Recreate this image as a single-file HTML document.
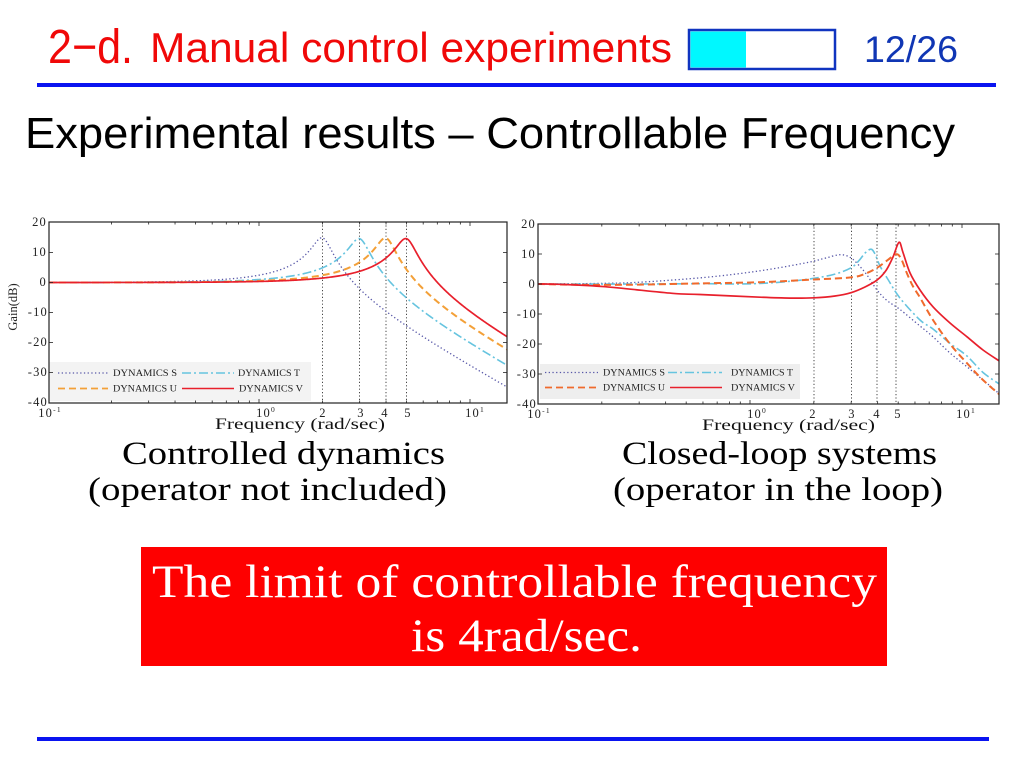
<!DOCTYPE html>
<html><head><meta charset="utf-8"><style>
html,body{margin:0;padding:0;background:#fff;}
svg{display:block;}
.tk{font-family:"Liberation Serif",serif;font-size:12.5px;fill:#222;letter-spacing:1.2px;}
.lg{font-family:"Liberation Serif",serif;font-size:9px;fill:#222;}
.cap{font-family:"Liberation Serif",serif;font-size:33px;fill:#000;}
</style></head><body>
<svg id="s" width="1024" height="768" viewBox="0 0 1024 768" xmlns="http://www.w3.org/2000/svg">
<rect width="1024" height="768" fill="#fff"/>
<!-- header -->
<text x="48" y="63" font-family="Liberation Sans, sans-serif" font-size="48" fill="#f00808" textLength="85" lengthAdjust="spacingAndGlyphs">2−d.</text>
<text x="150" y="62" font-family="Liberation Sans, sans-serif" font-size="42" fill="#f00808" textLength="522" lengthAdjust="spacingAndGlyphs">Manual control experiments</text>
<rect x="689" y="30" width="146" height="39" fill="#fff" stroke="#1034c0" stroke-width="2.5"/>
<rect x="690.5" y="31.5" width="55.5" height="36" fill="#00f8ff"/>
<text x="864" y="62" font-family="Liberation Sans, sans-serif" font-size="37" fill="#1036b4" textLength="94" lengthAdjust="spacingAndGlyphs">12/26</text>
<rect x="37" y="83" width="959" height="4" fill="#0a14f0"/>
<text x="25" y="148" font-family="Liberation Sans, sans-serif" font-size="44" fill="#000" textLength="930" lengthAdjust="spacingAndGlyphs">Experimental results – Controllable Frequency</text>

<defs>
<clipPath id="cl"><rect x="49" y="222" width="458" height="181"/></clipPath>
<clipPath id="cr"><rect x="538" y="224" width="461" height="180"/></clipPath>
</defs>

<!-- LEFT CHART -->
<g id="left">
<rect x="49" y="362" width="262" height="39" fill="#f3f3f3"/>
<g stroke="#333" stroke-width="0.9" stroke-dasharray="1.2,2.2">
<line x1="322.5" y1="222" x2="322.5" y2="403"/>
<line x1="359.5" y1="222" x2="359.5" y2="403"/>
<line x1="386" y1="222" x2="386" y2="403"/>
<line x1="406.5" y1="222" x2="406.5" y2="403"/>
</g>
<g id="lcurves" clip-path="url(#cl)"></g>
<g id="lticks" stroke="#222" stroke-width="0.8"></g>
<rect x="49" y="222" width="458" height="181" fill="none" stroke="#222" stroke-width="1.2"/>
<g class="tk" text-anchor="end">
<text x="47" y="226">20</text><text x="47" y="256">10</text><text x="47" y="286">0</text>
<text x="48" y="316">-10</text><text x="48" y="346">-20</text><text x="48" y="376">-30</text><text x="48" y="406">-40</text>
</g>
<g class="tk" text-anchor="middle">
<text x="50" y="417">10<tspan font-size="7.5" dy="-5">-1</tspan></text>
<text x="266" y="417">10<tspan font-size="7.5" dy="-5">0</tspan></text>
<text x="323" y="417">2</text><text x="361" y="417">3</text><text x="385" y="417">4</text><text x="408" y="417">5</text>
<text x="475" y="417">10<tspan font-size="7.5" dy="-5">1</tspan></text>
</g>
<text x="215" y="429" font-family="Liberation Serif, serif" font-size="16" fill="#111" textLength="170" lengthAdjust="spacingAndGlyphs">Frequency (rad/sec)</text>
<text transform="translate(17,307) rotate(-90)" text-anchor="middle" font-family="Liberation Serif, serif" font-size="12.5" fill="#222">Gain(dB)</text>
<!-- legend -->
<line x1="58" y1="373" x2="108" y2="373" stroke="#5858a8" stroke-width="1.3" stroke-dasharray="1.3,2.4"/>
<text class="lg" x="113" y="376" textLength="64" lengthAdjust="spacingAndGlyphs">DYNAMICS S</text>
<line x1="182" y1="373" x2="234" y2="373" stroke="#66c4df" stroke-width="1.6" stroke-dasharray="9,3,2,3"/>
<text class="lg" x="238" y="376" textLength="62" lengthAdjust="spacingAndGlyphs">DYNAMICS T</text>
<line x1="58" y1="388.5" x2="108" y2="388.5" stroke="#f3a038" stroke-width="1.8" stroke-dasharray="7,4"/>
<text class="lg" x="113" y="391.5" textLength="64" lengthAdjust="spacingAndGlyphs">DYNAMICS U</text>
<line x1="182" y1="388.5" x2="234" y2="388.5" stroke="#e8202c" stroke-width="1.6"/>
<text class="lg" x="239" y="391.5" textLength="64" lengthAdjust="spacingAndGlyphs">DYNAMICS V</text>
</g>

<!-- RIGHT CHART -->
<g id="right">
<rect x="540" y="364" width="260" height="35" fill="#eeeeee"/>
<g stroke="#333" stroke-width="0.9" stroke-dasharray="1.2,2.2">
<line x1="814" y1="224" x2="814" y2="404"/>
<line x1="851.5" y1="224" x2="851.5" y2="404"/>
<line x1="877" y1="224" x2="877" y2="404"/>
<line x1="896" y1="224" x2="896" y2="404"/>
</g>
<g id="rcurves" clip-path="url(#cr)"></g>
<g id="rticks" stroke="#222" stroke-width="0.8"></g>
<rect x="538" y="224" width="461" height="180" fill="none" stroke="#222" stroke-width="1.2"/>
<g class="tk" text-anchor="end">
<text x="536" y="228">20</text><text x="536" y="258">10</text><text x="536" y="288">0</text>
<text x="537" y="318">-10</text><text x="537" y="348">-20</text><text x="537" y="378">-30</text><text x="537" y="408">-40</text>
</g>
<g class="tk" text-anchor="middle">
<text x="539" y="418">10<tspan font-size="7.5" dy="-5">-1</tspan></text>
<text x="757" y="418">10<tspan font-size="7.5" dy="-5">0</tspan></text>
<text x="813" y="418">2</text><text x="852" y="418">3</text><text x="877" y="418">4</text><text x="898" y="418">5</text>
<text x="966" y="418">10<tspan font-size="7.5" dy="-5">1</tspan></text>
</g>
<text x="702" y="430" font-family="Liberation Serif, serif" font-size="16" fill="#111" textLength="173" lengthAdjust="spacingAndGlyphs">Frequency (rad/sec)</text>
<!-- legend -->
<line x1="545" y1="372.5" x2="598" y2="372.5" stroke="#5858a8" stroke-width="1.3" stroke-dasharray="1.3,2.4"/>
<text class="lg" x="603" y="375.5" textLength="62" lengthAdjust="spacingAndGlyphs">DYNAMICS S</text>
<line x1="668" y1="372.5" x2="722" y2="372.5" stroke="#66c4df" stroke-width="1.6" stroke-dasharray="9,3,2,3"/>
<text class="lg" x="731" y="375.5" textLength="62" lengthAdjust="spacingAndGlyphs">DYNAMICS T</text>
<line x1="545" y1="387.5" x2="598" y2="387.5" stroke="#f06a2c" stroke-width="1.8" stroke-dasharray="7,4"/>
<text class="lg" x="603" y="390.5" textLength="62" lengthAdjust="spacingAndGlyphs">DYNAMICS U</text>
<line x1="670" y1="387.5" x2="722" y2="387.5" stroke="#e8202c" stroke-width="1.6"/>
<text class="lg" x="731" y="390.5" textLength="64" lengthAdjust="spacingAndGlyphs">DYNAMICS V</text>
</g>

<!-- captions -->
<text class="cap" x="122" y="464" textLength="323" lengthAdjust="spacingAndGlyphs">Controlled dynamics</text>
<text class="cap" x="88" y="500" textLength="359" lengthAdjust="spacingAndGlyphs">(operator not included)</text>
<text class="cap" x="622" y="464" textLength="315" lengthAdjust="spacingAndGlyphs">Closed-loop systems</text>
<text class="cap" x="613" y="500" textLength="330" lengthAdjust="spacingAndGlyphs">(operator in the loop)</text>

<!-- red box -->
<rect x="141" y="547" width="746" height="119" fill="#fe0000"/>
<text x="152" y="597" font-family="Liberation Serif, serif" font-size="47" fill="#fff" textLength="725" lengthAdjust="spacingAndGlyphs">The limit of controllable frequency</text>
<text x="411" y="651" font-family="Liberation Serif, serif" font-size="47" fill="#fff" textLength="231" lengthAdjust="spacingAndGlyphs">is 4rad/sec.</text>

<!-- bottom line -->
<rect x="37" y="737" width="952" height="4" fill="#0a14f0"/>
</svg>
<script>
(function(){
var NS="http://www.w3.org/2000/svg";
function mk(parent,d,stroke,w,dash){var p=document.createElementNS(NS,"path");p.setAttribute("d",d);p.setAttribute("fill","none");p.setAttribute("stroke",stroke);p.setAttribute("stroke-width",w);p.setAttribute("stroke-linejoin","round");if(dash)p.setAttribute("stroke-dasharray",dash);parent.appendChild(p);}
function ln(parent,x1,y1,x2,y2){var l=document.createElementNS(NS,"line");l.setAttribute("x1",x1);l.setAttribute("y1",y1);l.setAttribute("x2",x2);l.setAttribute("y2",y2);parent.appendChild(l);}
var S="#5858a8",T="#66c4df",UL="#f3a038",UR="#f06a2c",V="#e8202c";
var dS="1.3,2.4",dT="9,3,2,3",dU="7,4";
// left chart: second order systems
var lc=document.getElementById("lcurves");
function sec(wn,z){var d="";for(var lw=-1;lw<=1.2;lw+=0.004){var w=Math.pow(10,lw);var r=w/wn;var db=-10*Math.log10(Math.pow(1-r*r,2)+Math.pow(2*z*r,2));var x=48+211*(lw+1);var y=282.5-3*db;d+=(d?"L":"M")+x.toFixed(2)+","+y.toFixed(2);}return d;}
mk(lc,sec(2,0.09),S,1.3,dS);
mk(lc,sec(3,0.093),T,1.6,dT);
mk(lc,sec(4,0.091),UL,2,dU);
mk(lc,sec(5,0.093),V,1.7,null);
// right chart: control points
var rc=document.getElementById("rcurves");
function cr(pts){var P=pts.map(function(p){return [p[0],284-3*p[1]];});var d="M"+P[0][0]+","+P[0][1];for(var i=0;i<P.length-1;i++){var p0=P[i-1]||P[i],p1=P[i],p2=P[i+1],p3=P[i+2]||P[i+1];var c1x=p1[0]+(p2[0]-p0[0])/6,c1y=p1[1]+(p2[1]-p0[1])/6;var c2x=p2[0]-(p3[0]-p1[0])/6,c2y=p2[1]-(p3[1]-p1[1])/6;d+="C"+c1x.toFixed(2)+","+c1y.toFixed(2)+" "+c2x.toFixed(2)+","+c2y.toFixed(2)+" "+p2[0].toFixed(2)+","+p2[1].toFixed(2);}return d;}
var pS=[[538,0],[600,0.2],[640,0.6],[705,2.2],[758,4.3],[805,7.0],[825,8.6],[838,9.7],[846,9.5],[853,8.2],[860,5.8],[867,3],[877,-2],[887,-5.5],[900,-8.5],[920,-14],[933,-17.6],[950,-23],[967,-27.6],[983,-32],[1000,-36.8]];
var pT=[[538,0],[640,0],[700,0.1],[740,0],[767,0.3],[790,0.9],[814,1.9],[835,3.3],[851,5.4],[859,7.8],[865,10.3],[871,11.6],[875,10],[880,6],[888,1.5],[900,-4.7],[920,-12],[933,-15],[950,-19.8],[967,-24],[983,-29.5],[1000,-33.5]];
var pU=[[538,0],[588,-0.3],[640,-0.2],[700,0.2],[760,0.6],[814,1.5],[851,2.2],[865,3.4],[877,5.4],[887,7.8],[896,9.9],[901,8.5],[907,3.5],[913,-0.8],[920,-4.5],[933,-12],[950,-20],[967,-26.4],[983,-32],[1000,-37]];
var pV=[[538,0],[560,-0.1],[605,-0.9],[672,-3.1],[700,-3.5],[760,-4.4],[790,-4.7],[814,-4.6],[835,-4],[851,-2.9],[865,-1],[877,1.3],[886,4.5],[893,9],[899,13.9],[903,10.5],[910,3.7],[920,-2],[933,-7.6],[950,-13],[967,-17.6],[983,-22],[1000,-25.8]];
mk(rc,cr(pS),S,1.3,dS);
mk(rc,cr(pT),T,1.6,dT);
mk(rc,cr(pU),UR,2,dU);
mk(rc,cr(pV),V,1.7,null);
// ticks
function ticks(gid,x0,dec,left,right,top,bot){var g=document.getElementById(gid);for(var k=-1;k<=1;k++){for(var m=1;m<10;m++){var x=x0+dec*(k+1+Math.log10(m));if(x<=left+0.5||x>=right-0.5)continue;var L=(m==1)?4:2.5;ln(g,x,bot,x,bot-L);ln(g,x,top,x,top+L);}}for(var db=-30;db<=10;db+=10){var y=(gid=="lticks"?282.5:284)-3*db;ln(g,left,y,left+4,y);ln(g,right,y,right-4,y);}}
ticks("lticks",48,211,49,507,222,403);
ticks("rticks",538,212,538,999,224,404);
})();
</script>
</body></html>
